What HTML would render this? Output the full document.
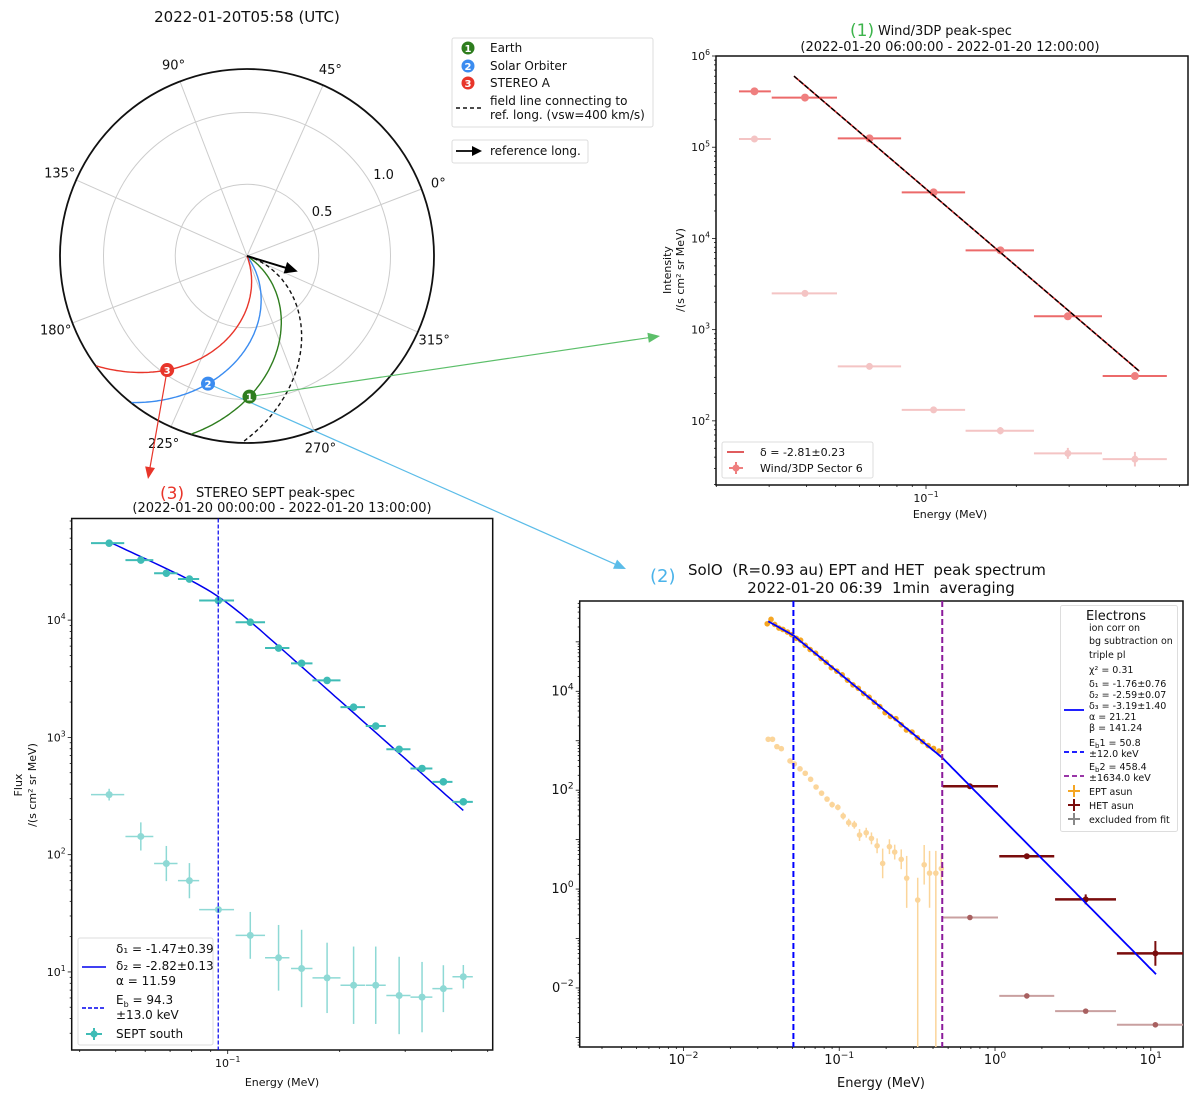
<!DOCTYPE html>
<html><head><meta charset="utf-8">
<style>
html,body{margin:0;padding:0;background:#fff;}
svg{display:block;font-family:"DejaVu Sans","Liberation Sans",sans-serif;}
.pre{white-space:pre;}
</style></head>
<body>
<svg id="fig" xmlns="http://www.w3.org/2000/svg" width="1200" height="1098" viewBox="0 0 1200 1098">
<rect x="0" y="0" width="1200" height="1098" fill="#fff"/>
<text x="247" y="22" font-size="15" text-anchor="middle" fill="#111">2022-01-20T05:58 (UTC)</text>
<g>
<rect x="452" y="38" width="201" height="89" rx="2" fill="#fff" stroke="#ddd"/>
<circle cx="468" cy="48" r="6.5" fill="#2e7d1e"/><text x="468" y="52" font-size="10" fill="#fff" text-anchor="middle" font-weight="bold">1</text>
<text x="490" y="52" font-size="12" fill="#111">Earth</text>
<circle cx="468" cy="66" r="6.5" fill="#3b8cf0"/><text x="468" y="70" font-size="10" fill="#fff" text-anchor="middle" font-weight="bold">2</text>
<text x="490" y="70" font-size="12" fill="#111">Solar Orbiter</text>
<circle cx="468" cy="83" r="6.5" fill="#e8352a"/><text x="468" y="87" font-size="10" fill="#fff" text-anchor="middle" font-weight="bold">3</text>
<text x="490" y="87" font-size="12" fill="#111">STEREO A</text>
<line x1="456" y1="108" x2="481" y2="108" stroke="#111" stroke-width="1.5" stroke-dasharray="4,3"/>
<text x="490" y="105" font-size="12" fill="#111">field line connecting to</text>
<text x="490" y="119" font-size="12" fill="#111">ref. long. (vsw=400 km/s)</text>
</g>
<g>
<rect x="452" y="140" width="136" height="23" rx="2" fill="#fff" stroke="#ddd"/>
<line x1="456" y1="151" x2="474" y2="151" stroke="#000" stroke-width="1.8"/>
<polygon points="482,151 472,146 472,156" fill="#000"/>
<text x="490" y="155" font-size="12" fill="#111">reference long.</text>
</g>
<g id="polar"></g>
<g id="tr"></g>
<g id="bl"></g>
<g id="br"></g>
<g id="arrows"></g>

<text x="850" y="36" font-size="17" fill="#3cb44b">(1)</text>
<text x="878" y="35" font-size="13" fill="#111">Wind/3DP peak-spec</text>
<text x="950" y="51" font-size="13" fill="#111" text-anchor="middle">(2022-01-20 06:00:00 - 2022-01-20 12:00:00)</text>
<text transform="translate(671,270) rotate(-90)" font-size="11" text-anchor="middle" fill="#111">Intensity</text>
<text transform="translate(684,270) rotate(-90)" font-size="11" text-anchor="middle" fill="#111">/(s cm² sr MeV)</text>
<text x="950" y="518" font-size="11" text-anchor="middle" fill="#111">Energy (MeV)</text>

<text x="160" y="499" font-size="17" fill="#e8352a">(3)</text>
<text x="196" y="497" font-size="13" fill="#111">STEREO SEPT peak-spec</text>
<text x="282" y="512" font-size="13" fill="#111" text-anchor="middle">(2022-01-20 00:00:00 - 2022-01-20 13:00:00)</text>
<text transform="translate(22,785) rotate(-90)" font-size="11" text-anchor="middle" fill="#111">Flux</text>
<text transform="translate(36,785) rotate(-90)" font-size="11" text-anchor="middle" fill="#111">/(s cm² sr MeV)</text>
<text x="282" y="1086" font-size="11" text-anchor="middle" fill="#111">Energy (MeV)</text>

<text x="650" y="582" font-size="18" fill="#4ab3ea">(2)</text>
<text class="pre" x="688" y="575" font-size="15" fill="#111">SolO  (R=0.93 au) EPT and HET  peak spectrum</text>
<text class="pre" x="881" y="593" font-size="15" fill="#111" text-anchor="middle">2022-01-20 06:39  1min  averaging</text>
<text x="881" y="1087" font-size="13" text-anchor="middle" fill="#111">Energy (MeV)</text>
</svg>
<script>
// ---------------- DATA ----------------
// polar plot
const bodyNames = ['Earth','Solar Orbiter','STEREO A'];
const bodyRadiusAU = [0.98, 0.93, 0.97];
const bodyLongDeg = [250, 232, 214];
const refLongDeg = 322;
const ringValues = [0.5, 1.0];
const angleLabels = [0,45,90,135,180,225,270,315];

// Wind/3DP (top right)
const windE = [0.0268,0.0395,0.0648,0.106,0.177,0.297,0.497];
const windElo = [0.0238,0.0306,0.0508,0.083,0.1355,0.229,0.388];
const windEhi = [0.0304,0.0505,0.0826,0.135,0.229,0.386,0.635];
const windPeak = [410000,350000,125000,32000,7400,1400,310];
const windBg = [123000,2500,395,132,78,44,38];
const windBgErr = [0.01,0.01,0.02,0.03,0.04,0.06,0.08];
const windDelta = -2.81;
const windFitAt01 = 34900;
const windFitRange = [0.0363,0.514];

// STEREO SEPT (bottom left)
const septE = [0.048,0.0584,0.0684,0.0789,0.0944,0.115,0.137,0.158,0.185,0.218,0.250,0.289,0.333,0.380,0.430];
const septElo = [0.0429,0.0531,0.0634,0.0735,0.0838,0.105,0.126,0.148,0.169,0.201,0.235,0.267,0.310,0.355,0.402];
const septEhi = [0.0527,0.0631,0.0733,0.0838,0.104,0.126,0.1465,0.169,0.201,0.234,0.266,0.310,0.355,0.402,0.456];
const septPeak = [45300,32500,25100,22400,14700,9600,5780,4280,3060,1810,1250,792,543,418,282];
const septBg = [325,143,84,60,34,20.5,13.2,10.7,8.9,7.7,7.7,6.3,6.1,7.2,9.1];
const septBgErr = [0.05,0.12,0.15,0.15,0.01,0.2,0.28,0.33,0.3,0.33,0.33,0.33,0.3,0.2,0.1];
const septDelta1 = -1.47, septDelta2 = -2.82, septAlpha = 11.59, septEb = 0.0943, septI0 = 17200;

// SolO EPT/HET (bottom right)
const eptE = [0.0345,0.0365,0.0385,0.041,0.0435,0.0465,0.0495,0.053,0.0565,0.0605,0.065,0.0705,0.0765,0.0825,0.089,0.0965,0.1045,0.113,0.1225,0.1325,0.1435,0.1555,0.168,0.182,0.197,0.213,0.231,0.25,0.27,0.293,0.317,0.343,0.372,0.403,0.437];
const eptPeak = [232000,285000,225000,190000,178000,158000,140000,118000,108000,85000,70000,59000,46000,38500,30000,25500,21500,16800,13500,11500,9000,7600,6000,4900,3700,3100,2800,2100,1650,1500,1150,960,800,700,620];
const eptBgE = [0.035,0.0373,0.0398,0.0425,0.0483,0.0515,0.056,0.0605,0.0655,0.071,0.077,0.0835,0.090,0.098,0.106,0.115,0.125,0.135,0.149,0.161,0.175,0.19,0.21,0.227,0.25,0.271,0.319,0.351,0.38,0.417,0.452];
const eptBg = [1070,1070,760,690,390,340,270,220,166,116,87,66,51,45,30,22,20,12.4,13.8,10.6,7.5,3.3,7.2,5.6,4.0,1.66,0.6,3.1,2.1,2.1,2.6];
const eptBgErrDec = [0.02,0.02,0.03,0.03,0.03,0.03,0.04,0.04,0.04,0.05,0.05,0.05,0.06,0.06,0.07,0.08,0.08,0.12,0.1,0.12,0.15,0.3,0.15,0.15,0.2,0.6,4,0.4,0.7,4,0.3];
const hetE = [0.69,1.6,3.82,10.7];
const hetElo = [0.461,1.065,2.43,6.06];
const hetEhi = [1.045,2.4,5.98,16.1];
const hetPeak = [120,4.6,0.62,0.05];
const hetPeakErrDec = [0.03,0.05,0.1,0.25];
const hetBg = [0.266,0.0069,0.0034,0.0018];
const soloDeltas = [-1.76,-2.59,-3.19];
const soloBreaks = [0.0508,0.4584];
const soloAnchor = 134900;
const soloFitRange = [0.035,10.8];
const soloLegendLines = ['ion corr on','bg subtraction on','triple pl','χ² =  0.31','δ₁ = -1.76±0.76','δ₂ = -2.59±0.07','δ₃ = -3.19±1.40','α = 21.21','β = 141.24'];

// ---------------- HELPERS ----------------
const NS='http://www.w3.org/2000/svg';
function mk(tag,attrs,parent){const e=document.createElementNS(NS,tag);for(const k in attrs)e.setAttribute(k,attrs[k]);parent.appendChild(e);return e;}
function logScale(l0,l1,p0,p1){return v=>p0+(Math.log10(v)-l0)/(l1-l0)*(p1-p0);}
function supText(parent,x,y,base,exp,size,anchor){
  const t=mk('text',{x:x,y:y,'font-size':size,'text-anchor':anchor,fill:'#111'},parent);
  t.appendChild(document.createTextNode(base));
  const s=mk('tspan',{dy:-size*0.45,'font-size':size*0.7},t);
  s.textContent=exp;
  return t;
}
function axes(g,ax,labX,labY,fs){
  const box=mk('rect',{x:ax.x0,y:ax.y0,width:ax.x1-ax.x0,height:ax.y1-ax.y0,fill:'none',stroke:'#111','stroke-width':1.5},g);
  
  
  for(let d=Math.floor(ax.lx0);d<=Math.ceil(ax.lx1);d++)for(let m=1;m<10;m++){
    const lv=d+Math.log10(m); if(lv<ax.lx0||lv>ax.lx1)continue;
    const p=ax.sx(Math.pow(10,lv));
    const tk=mk('line',{x1:p,x2:p,y1:ax.y1,y2:ax.y1+(m==1?4:2),stroke:'#111','stroke-width':0.8},g);
    
    
    if(m==1&&labX.includes(d)){
      const lb=supText(g,p,ax.y1+17,'10',d<0?'−'+(-d):''+d,fs,'middle');
      
      
    }
  }
  for(let d=Math.floor(ax.ly1);d<=Math.ceil(ax.ly0);d++)for(let m=1;m<10;m++){
    const lv=d+Math.log10(m); if(lv<ax.ly1||lv>ax.ly0)continue;
    const p=ax.sy(Math.pow(10,lv));
    const tk=mk('line',{x1:ax.x0,x2:ax.x0-(m==1?4:2),y1:p,y2:p,stroke:'#111','stroke-width':0.8},g);
    
    
    if(m==1&&labY.includes(d)){
      const base=(ax.cutNeg&&d<0)?'0':'10';
      const lb=supText(g,ax.x0-6,p+4,base,d<0?'−'+(-d):''+d,fs,'end');
      
      
    }
  }
}
function pathFrom(pts){return pts.map((p,i)=>(i?'L':'M')+p[0].toFixed(1)+','+p[1].toFixed(1)).join('');}

// ---------------- POLAR ----------------
(function(){
  const g=document.getElementById('polar');
  const cx=247,cy=256,R=187,pxPerAU=143.5,rmax=R/pxPerAU,off=21,k=1.0;
  const pt=(r,phiDeg)=>{const a=(phiDeg+off)*Math.PI/180;return [cx+r*pxPerAU*Math.cos(a),cy-r*pxPerAU*Math.sin(a)];};
  for(let a=0;a<180;a+=45){
    const p1=pt(rmax,a),p2=pt(rmax,a+180);
    const l=mk('line',{x1:p1[0],y1:p1[1],x2:p2[0],y2:p2[1],stroke:'#ccc','stroke-width':1},g);
    
    
  }
  ringValues.forEach(v=>{
    const c=mk('circle',{cx:cx,cy:cy,r:v*pxPerAU,fill:'none',stroke:'#ccc','stroke-width':1},g);
    
    
    const p=pt(v+0.11,10);
    const t=mk('text',{x:p[0],y:p[1]+5,'font-size':13,'text-anchor':'middle',fill:'#111'},g);
    t.textContent=v.toFixed(1);
    
    
  });
  angleLabels.forEach(a=>{
    const p=pt(rmax+0.125,a);
    const t=mk('text',{x:p[0],y:p[1]+5,'font-size':13,'text-anchor':'middle',fill:'#111'},g);
    t.textContent=a+'°';
    
    
  });
  const outer=mk('circle',{cx:cx,cy:cy,r:R,fill:'none',stroke:'#111','stroke-width':1.8},g);
  
  
  const spiral=(phiB,rB)=>{const pts=[];for(let r=0;r<=rmax+1e-6;r+=0.01){pts.push(pt(r,phiB+k*(rB-r)*180/Math.PI));}return pts;};
  const refPath=mk('path',{d:pathFrom(spiral(refLongDeg,0)),fill:'none',stroke:'#111','stroke-width':1.4,'stroke-dasharray':'4,3'},g);
  
  
  const cols=['#2e7d1e','#3b8cf0','#e8352a'];
  bodyNames.forEach((n,i)=>{
    const p=mk('path',{d:pathFrom(spiral(bodyLongDeg[i],bodyRadiusAU[i])),fill:'none',stroke:cols[i],'stroke-width':1.4},g);
    
    
  });
  const a1=pt(0.37,refLongDeg);
  const ang=(refLongDeg+off)*Math.PI/180;
  const ux=Math.cos(ang),uy=-Math.sin(ang);
  const ar=mk('line',{x1:cx,y1:cy,x2:a1[0]-ux*10,y2:a1[1]-uy*10,stroke:'#000','stroke-width':2},g);
  
  
  const hx=a1[0],hy=a1[1];
  const head=mk('polygon',{points:[[hx,hy],[hx-ux*13-uy*6,hy-uy*13+ux*6],[hx-ux*13+uy*6,hy-uy*13-ux*6]].map(p=>p.join(',')).join(' '),fill:'#000'},g);
  
  
  window.bodyPos=bodyNames.map((n,i)=>pt(bodyRadiusAU[i],bodyLongDeg[i]));
})();

// ---------------- ARROWS ----------------
(function(){
  const g=document.getElementById('arrows');
  const targets=[[660,336],[626,569],[148,479]];
  const cols=['#5cbf6a','#5bbce8','#e8352a'];
  bodyPos.forEach((b,i)=>{
    const [tx,ty]=targets[i];
    const dx=tx-b[0],dy=ty-b[1],L=Math.hypot(dx,dy),ux=dx/L,uy=dy/L;
    const ln=mk('line',{x1:b[0],y1:b[1],x2:tx-ux*10,y2:ty-uy*10,stroke:cols[i],'stroke-width':1.2},g);
    
    
    const hd=mk('polygon',{points:[[tx,ty],[tx-ux*12-uy*5,ty-uy*12+ux*5],[tx-ux*12+uy*5,ty-uy*12-ux*5]].map(p=>p.join(',')).join(' '),fill:cols[i]},g);
    
    
  });
  const mc=['#2e7d1e','#3b8cf0','#e8352a'];
  bodyPos.forEach((b,i)=>{
    const c=mk('circle',{cx:b[0],cy:b[1],r:7,fill:mc[i]},g);
    
    
    const t=mk('text',{x:b[0],y:b[1]+4,'font-size':10,'font-weight':'bold','text-anchor':'middle',fill:'#fff'},g);
    t.textContent=''+(i+1);
    
    
  });
})();

// ---------------- WIND (TR) ----------------
(function(){
  const g=document.getElementById('tr');
  const ax={x0:716,x1:1188,y0:56,y1:485,lx0:-1.7,lx1:-0.1267,ly0:6,ly1:1.2967};
  ax.sx=logScale(ax.lx0,ax.lx1,ax.x0,ax.x1);ax.sy=logScale(ax.ly0,ax.ly1,ax.y0,ax.y1);
  axes(g,ax,[-1],[2,3,4,5,6],11);
  windE.forEach((e,i)=>{
    const y=ax.sy(windBg[i]);
    const h=mk('line',{x1:ax.sx(windElo[i]),x2:ax.sx(windEhi[i]),y1:y,y2:y,stroke:'#f4c4c4','stroke-width':2},g);
    
    
    const v=mk('line',{x1:ax.sx(e),x2:ax.sx(e),y1:ax.sy(windBg[i]*Math.pow(10,windBgErr[i])),y2:ax.sy(windBg[i]*Math.pow(10,-windBgErr[i])),stroke:'#f4c4c4','stroke-width':2},g);
    
    
    const c=mk('circle',{cx:ax.sx(e),cy:y,r:3.5,fill:'#f4c4c4'},g);
    
    
  });
  windE.forEach((e,i)=>{
    const y=ax.sy(windPeak[i]);
    const h=mk('line',{x1:ax.sx(windElo[i]),x2:ax.sx(windEhi[i]),y1:y,y2:y,stroke:'#ec6a6a','stroke-width':2},g);
    
    
    const c=mk('circle',{cx:ax.sx(e),cy:y,r:4,fill:'#ef7f7f'},g);
    
    
  });
  const f=E=>windFitAt01*Math.pow(E/0.1,windDelta);
  const p1=[ax.sx(windFitRange[0]),ax.sy(f(windFitRange[0]))],p2=[ax.sx(windFitRange[1]),ax.sy(f(windFitRange[1]))];
  const fr=mk('line',{x1:p1[0],y1:p1[1],x2:p2[0],y2:p2[1],stroke:'#d62728','stroke-width':1.6},g);
  
  
  const fb=mk('line',{x1:p1[0],y1:p1[1],x2:p2[0],y2:p2[1],stroke:'#000','stroke-width':1.4,'stroke-dasharray':'5,2'},g);
  
  
  const lg=mk('g',{},g);
  
  
  mk('rect',{x:722,y:442,width:151,height:36,rx:2,fill:'#fff',stroke:'#ddd'},lg);
  mk('line',{x1:727,x2:744,y1:452,y2:452,stroke:'#d62728','stroke-width':1.6},lg);
  const t1=mk('text',{x:760,y:456,'font-size':11,fill:'#111'},lg);t1.textContent='δ = -2.81±0.23';
  mk('line',{x1:729,x2:743,y1:468,y2:468,stroke:'#ef7f7f','stroke-width':2},lg);
  mk('line',{x1:736,x2:736,y1:462,y2:474,stroke:'#ef7f7f','stroke-width':2},lg);
  mk('circle',{cx:736,cy:468,r:3.5,fill:'#ef7f7f'},lg);
  const t2=mk('text',{x:760,y:472,'font-size':11,fill:'#111'},lg);t2.textContent='Wind/3DP Sector 6';
})();

// ---------------- STEREO (BL) ----------------
(function(){
  const g=document.getElementById('bl');
  const ax={x0:71.7,x1:492.7,y0:518.5,y1:1050,lx0:-1.4194,lx1:-0.2876,ly0:4.8665,ly1:0.3343};
  ax.sx=logScale(ax.lx0,ax.lx1,ax.x0,ax.x1);ax.sy=logScale(ax.ly0,ax.ly1,ax.y0,ax.y1);
  axes(g,ax,[-1],[1,2,3,4],11);
  const fc='#8ed9d5',mc='#3fbcb6';
  septE.forEach((e,i)=>{
    const y=ax.sy(septBg[i]),x=ax.sx(e);
    const h=mk('line',{x1:ax.sx(septElo[i]),x2:ax.sx(septEhi[i]),y1:y,y2:y,stroke:fc,'stroke-width':1.5},g);
    
    
    const v=mk('line',{x1:x,x2:x,y1:ax.sy(septBg[i]*Math.pow(10,septBgErr[i])),y2:ax.sy(septBg[i]*Math.pow(10,-septBgErr[i])),stroke:fc,'stroke-width':1.5},g);
    
    
    const c=mk('circle',{cx:x,cy:y,r:3.5,fill:fc},g);
    
    
  });
  const fit=E=>{const x=E/septEb;return septI0*Math.pow(x,septDelta1)*Math.pow(1+Math.pow(x,septAlpha),(septDelta2-septDelta1)/septAlpha);};
  const pts=[];const l0=Math.log10(septE[0]),l1=Math.log10(septE[septE.length-1]);
  for(let i=0;i<=80;i++){const E=Math.pow(10,l0+(l1-l0)*i/80);pts.push([ax.sx(E),ax.sy(fit(E))]);}
  const fl=mk('path',{d:pathFrom(pts),fill:'none',stroke:'#0000ee','stroke-width':1.5},g);
  
  
  septE.forEach((e,i)=>{
    const y=ax.sy(septPeak[i]);
    const h=mk('line',{x1:ax.sx(septElo[i]),x2:ax.sx(septEhi[i]),y1:y,y2:y,stroke:mc,'stroke-width':2},g);
    
    
    const c=mk('circle',{cx:ax.sx(e),cy:y,r:3.8,fill:mc},g);
    
    
  });
  const xb=ax.sx(septEb);
  const vb=mk('line',{x1:xb,x2:xb,y1:ax.y0,y2:ax.y1,stroke:'#0000ee','stroke-width':1.2,'stroke-dasharray':'4,2'},g);
  
  
  const lg=mk('g',{},g);
  
  
  mk('rect',{x:78,y:938,width:135,height:107,rx:2,fill:'#fff','fill-opacity':0.85,stroke:'#ddd'},lg);
  mk('line',{x1:82,x2:106,y1:967,y2:967,stroke:'#0000ee','stroke-width':1.6},lg);
  [['δ₁ = -1.47±0.39',953],['δ₂ = -2.82±0.13',970],['α = 11.59',985],['E_b =  94.3',1004],['±13.0 keV',1019],['SEPT south',1038]].forEach(s=>{
    const t=mk('text',{x:116,y:s[1],'font-size':12,fill:'#111'},lg);
    if(s[0].startsWith('E_b')){t.appendChild(document.createTextNode('E'));const sb=mk('tspan',{dy:3,'font-size':8},t);sb.textContent='b';const r=mk('tspan',{dy:-3},t);r.textContent=' =  94.3';}
    else t.textContent=s[0];
  });
  mk('line',{x1:82,x2:106,y1:1008,y2:1008,stroke:'#0000ee','stroke-width':1.6,'stroke-dasharray':'4,2'},lg);
  mk('line',{x1:86,x2:102,y1:1034,y2:1034,stroke:mc,'stroke-width':2},lg);
  mk('line',{x1:94,x2:94,y1:1028,y2:1040,stroke:mc,'stroke-width':2},lg);
  mk('circle',{cx:94,cy:1034,r:3.5,fill:mc},lg);
})();

// ---------------- SolO (BR) ----------------
(function(){
  const g=document.getElementById('br');
  const ax={x0:579.7,x1:1183,y0:601,y1:1047,lx0:-2.666,lx1:1.2067,ly0:5.826,ly1:-3.194,cutNeg:true};
  ax.sx=logScale(ax.lx0,ax.lx1,ax.x0,ax.x1);ax.sy=logScale(ax.ly0,ax.ly1,ax.y0,ax.y1);
  axes(g,ax,[-2,-1,0,1],[-2,0,2,4],13);
  const oc='#f5a623',ofc='#fbd59a',hc='#7a0c0c',hfc='#c9a0a0';
  eptBgE.forEach((e,i)=>{
    const x=ax.sx(e),y=ax.sy(eptBg[i]);
    const hiY=ax.sy(eptBg[i]*Math.pow(10,Math.min(eptBgErrDec[i],0.45)));
    const loY=Math.min(ax.y1,ax.sy(eptBg[i]*Math.pow(10,-eptBgErrDec[i])));
    const v=mk('line',{x1:x,x2:x,y1:hiY,y2:loY,stroke:ofc,'stroke-width':1.5},g);
    
    
    const c=mk('circle',{cx:x,cy:y,r:2.8,fill:ofc},g);
    
    
  });
  hetE.forEach((e,i)=>{
    const y=ax.sy(hetBg[i]);
    const h=mk('line',{x1:ax.sx(hetElo[i]),x2:ax.sx(hetEhi[i]),y1:y,y2:y,stroke:hfc,'stroke-width':2},g);
    
    
    const c=mk('circle',{cx:ax.sx(e),cy:y,r:2.8,fill:'#a86060'},g);
    
    
  });
  eptE.forEach((e,i)=>{
    const c=mk('circle',{cx:ax.sx(e),cy:ax.sy(eptPeak[i]),r:2.8,fill:oc},g);
    
    
  });
  hetE.forEach((e,i)=>{
    const y=ax.sy(hetPeak[i]),x=ax.sx(e);
    const h=mk('line',{x1:ax.sx(hetElo[i]),x2:ax.sx(hetEhi[i]),y1:y,y2:y,stroke:hc,'stroke-width':2.5},g);
    
    
    const v=mk('line',{x1:x,x2:x,y1:ax.sy(hetPeak[i]*Math.pow(10,hetPeakErrDec[i])),y2:ax.sy(hetPeak[i]*Math.pow(10,-hetPeakErrDec[i])),stroke:hc,'stroke-width':2},g);
    
    
    const c=mk('circle',{cx:x,cy:y,r:3,fill:hc},g);
    
    
  });
  const fit=E=>{
    let v=soloAnchor;
    if(E<soloBreaks[0]) return v*Math.pow(E/soloBreaks[0],soloDeltas[0]);
    if(E<soloBreaks[1]) return v*Math.pow(E/soloBreaks[0],soloDeltas[1]);
    v=v*Math.pow(soloBreaks[1]/soloBreaks[0],soloDeltas[1]);
    return v*Math.pow(E/soloBreaks[1],soloDeltas[2]);
  };
  const pts=[];const l0=Math.log10(soloFitRange[0]),l1=Math.log10(soloFitRange[1]);
  for(let i=0;i<=120;i++){const E=Math.pow(10,l0+(l1-l0)*i/120);pts.push([ax.sx(E),ax.sy(fit(E))]);}
  const fl=mk('path',{d:pathFrom(pts),fill:'none',stroke:'#0000ff','stroke-width':1.8},g);
  
  
  const bcol=['#0000ff','#8b1a9b'];
  soloBreaks.forEach((b,i)=>{
    const x=ax.sx(b);
    const l=mk('line',{x1:x,x2:x,y1:ax.y0,y2:ax.y1,stroke:bcol[i],'stroke-width':2,'stroke-dasharray':'6,3'},g);
    
    
  });
  const lg=mk('g',{},g);
  
  
  mk('rect',{x:1060.5,y:605.5,width:117,height:226,rx:2,fill:'#fff',stroke:'#ddd'},lg);
  const tt=mk('text',{x:1116,y:620,'font-size':13,'text-anchor':'middle',fill:'#111'},lg);tt.textContent='Electrons';
  const ys=[631,644,658,673,687,698,709,720,731];
  soloLegendLines.forEach((s,i)=>{const t=mk('text',{x:1089,y:ys[i],'font-size':9.5,fill:'#111'},lg);t.textContent=s;});
  mk('line',{x1:1064,x2:1084,y1:710,y2:710,stroke:'#0000ff','stroke-width':1.8},lg);
  const eb=[['1 =  50.8',746],['±12.0 keV',757],['2 =  458.4',770],['±1634.0 keV',781]];
  eb.forEach((s,i)=>{const t=mk('text',{x:1089,y:s[1],'font-size':9.5,fill:'#111'},lg);
    if(i%2==0){t.appendChild(document.createTextNode('E'));const sb=mk('tspan',{dy:2,'font-size':7},t);sb.textContent='b';const r=mk('tspan',{dy:-2},t);r.textContent=s[0];}
    else t.textContent=s[0];});
  mk('line',{x1:1064,x2:1084,y1:752,y2:752,stroke:'#0000ff','stroke-width':1.8,'stroke-dasharray':'5,3'},lg);
  mk('line',{x1:1064,x2:1084,y1:776,y2:776,stroke:'#8b1a9b','stroke-width':1.8,'stroke-dasharray':'5,3'},lg);
  [['EPT asun',795,oc],['HET asun',809,hc],['excluded from fit',823,'#888']].forEach(s=>{
    mk('line',{x1:1068,x2:1080,y1:s[1]-4,y2:s[1]-4,stroke:s[2],'stroke-width':2},lg);
    mk('line',{x1:1074,x2:1074,y1:s[1]-10,y2:s[1]+2,stroke:s[2],'stroke-width':2},lg);
    const t=mk('text',{x:1089,y:s[1],'font-size':9.5,fill:'#111'},lg);t.textContent=s[0];
  });
})();
</script>
</body></html>
